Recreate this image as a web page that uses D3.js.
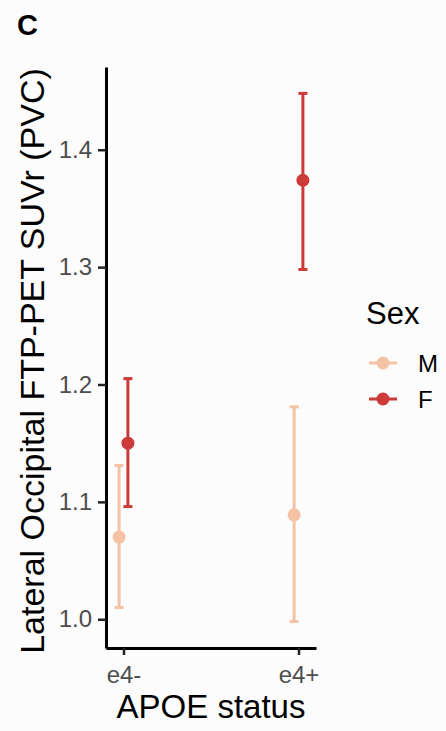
<!DOCTYPE html>
<html lang="en">
  <head>
    <meta charset="utf-8">
    <script src="https://d3js.org/d3.v7.min.js"></script>
    <style>
      body { margin: 0; background: #fcfcfc; }
      svg { display: block; font-family: "Liberation Sans", Arial, sans-serif; }
      .tick text { fill: #4d4d4d; }
    </style>
  </head>
  <body>
    <svg width="446" height="731"></svg>
    <script>
      // categories and series
      var apoe = ["e4-", "e4+"];
      var sexes = ["M", "F"];
      var colors = ["#f4c2a4", "#cd3a3a"];
      // mean, lower and upper per APOE status
      var meanM = [1.070, 1.089];
      var lowM = [1.010, 0.998];
      var highM = [1.131, 1.181];
      var meanF = [1.150, 1.374];
      var lowF = [1.096, 1.298];
      var highF = [1.205, 1.448];
      var yTicks = [1.0, 1.1, 1.2, 1.3, 1.4];

      var rows = [];
      apoe.forEach(function (a, i) {
        rows.push({ apoe: a, sex: "M", mean: meanM[i], lo: lowM[i], hi: highM[i] });
        rows.push({ apoe: a, sex: "F", mean: meanF[i], lo: lowF[i], hi: highF[i] });
      });

      var svg = d3.select("svg");
      // plot panel edges (note: "top" is reserved on window)
      var pLeft = 106, pRight = 316, pTop = 67, pBottom = 648;

      // ggplot style 5% expansion around the data
      var ymin = d3.min(rows, function (d) { return d.lo; }),
        ymax = d3.max(rows, function (d) { return d.hi; }),
        pad = (ymax - ymin) * 0.05;

      var yScale = d3.scaleLinear().domain([ymin - pad, ymax + pad]).range([pBottom, pTop]);
      var xScale = d3.scalePoint().domain(apoe).range([pLeft, pRight]).padding(0.1);
      var color = d3.scaleOrdinal().domain(sexes).range(colors);
      var dodge = d3.scalePoint().domain(sexes).range([-4.4, 4.4]);

      // panel letter
      svg.append("text")
        .attr("x", 17)
        .attr("y", 35)
        .style("font-size", "29px")
        .style("font-weight", "bold")
        .text("C");

      // axes
      var yAxis = svg.append("g")
        .attr("transform", "translate(" + pLeft + ",0)")
        .call(d3.axisLeft(yScale).tickValues(yTicks).tickFormat(d3.format(".1f"))
          .tickSize(8).tickSizeOuter(0).tickPadding(6));

      var xAxis = svg.append("g")
        .attr("transform", "translate(0," + pBottom + ")")
        .call(d3.axisBottom(xScale).tickSize(7).tickSizeOuter(0).tickPadding(6));

      [yAxis, xAxis].forEach(function (g) {
        g.attr("font-family", null).attr("font-size", null);
        g.select(".domain").attr("stroke", "#000").attr("stroke-width", 3);
        g.selectAll(".tick line").attr("stroke", "#222").attr("stroke-width", 2.5);
        g.selectAll(".tick text").style("font-size", "24px");
      });
      xAxis.selectAll(".tick text").attr("dy", "0.92em");

      // axis titles
      svg.append("text")
        .attr("text-anchor", "middle")
        .attr("transform", "translate(44,361)rotate(-90)")
        .style("font-size", "34px")
        .text("Lateral Occipital FTP-PET SUVr (PVC)");

      svg.append("text")
        .attr("x", (pLeft + pRight) / 2)
        .attr("y", 718)
        .attr("text-anchor", "middle")
        .style("font-size", "33px")
        .text("APOE status");

      // error bars
      var marks = svg.append("g")
        .selectAll("g")
        .data(rows)
        .enter()
        .append("g")
        .attr("transform", function (d) {
          return "translate(" + (xScale(d.apoe) + dodge(d.sex)) + ",0)";
        })
        .style("stroke", function (d) { return color(d.sex); })
        .style("fill", function (d) { return color(d.sex); });

      marks.append("line")
        .attr("y1", function (d) { return yScale(d.lo); })
        .attr("y2", function (d) { return yScale(d.hi); })
        .attr("stroke-width", 3);

      marks.selectAll("line.cap")
        .data(function (d) { return [d.lo, d.hi]; })
        .enter()
        .append("line")
        .attr("class", "cap")
        .attr("x1", -4.5)
        .attr("x2", 4.5)
        .attr("y1", function (v) { return yScale(v); })
        .attr("y2", function (v) { return yScale(v); })
        .attr("stroke-width", 3);

      marks.append("circle")
        .attr("cy", function (d) { return yScale(d.mean); })
        .attr("r", 6.5)
        .style("stroke", "none");

      // legend
      var legend = svg.append("g").attr("transform", "translate(366,0)");
      legend.append("text")
        .attr("y", 324)
        .style("font-size", "31px")
        .text("Sex");

      var items = legend.selectAll("g.item")
        .data(sexes)
        .enter()
        .append("g")
        .attr("class", "item")
        .attr("transform", function (d, i) { return "translate(0," + (363 + i * 36) + ")"; });

      items.append("line")
        .attr("x1", 3)
        .attr("x2", 31)
        .attr("stroke", function (d) { return color(d); })
        .attr("stroke-width", 3);

      items.append("circle")
        .attr("cx", 17)
        .attr("r", 6.5)
        .attr("fill", function (d) { return color(d); });

      items.append("text")
        .attr("x", 52)
        .attr("dy", "0.36em")
        .style("font-size", "24px")
        .text(function (d) { return d; });
    </script>
  </body>
</html>
